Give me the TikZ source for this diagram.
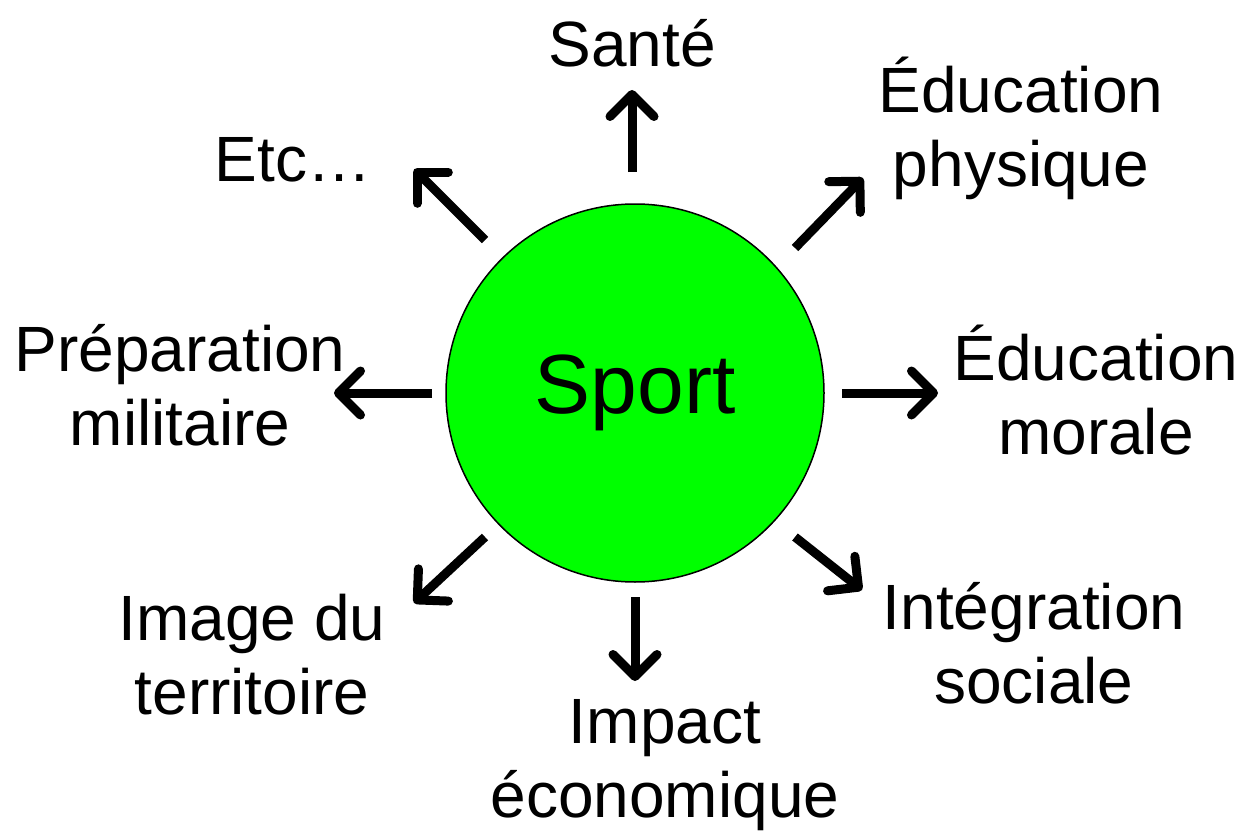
\documentclass[tikz,border=0pt]{standalone}
\usepackage{fontspec}
\setmainfont{Liberation Sans}
\usetikzlibrary{arrows.meta}

\begin{document}
\begin{tikzpicture}[x=1pt,y=-1pt]
\tikzset{
  label/.style={align=center,inner sep=0pt,font=\fontsize{64}{74}\selectfont},
  arr/.style={line width=9pt,-{Straight Barb[length=22pt,width=44pt,round]}}
}
\useasboundingbox (0,0) rectangle (1245,840);
% centre
\node (sport) [circle,draw,line width=1.5pt,fill={rgb,255:red,0;green,255;blue,0},minimum size=378pt,inner sep=0pt,font=\fontsize{84}{100}\selectfont] at (635,393) {Sport};
% labels
\node (sante) [label] at (632,43) {Santé};
\node (edphys) [label] at (1021,128) {Éducation\\physique};
\node (edmor) [label] at (1096,390) {Éducation\\morale};
\node (integ) [label] at (1034,643) {Intégration\\sociale};
\node (impact) [label] at (665,765) {Impact\\économique};
\node (image) [label] at (252,655) {Image du\\territoire};
\node (prep) [label] at (180,385) {Préparation\\militaire};
\node (etc) [label] at (293,160) {Etc…};
% arrow ends
\coordinate (a1) at (632,172); \coordinate (b1) at (632,90);
\coordinate (a2) at (795,248); \coordinate (b2) at (863,178);
\coordinate (a3) at (842,393); \coordinate (b3) at (938,393);
\coordinate (a4) at (795,537); \coordinate (b4) at (862,590);
\coordinate (a5) at (635,597); \coordinate (b5) at (635,681);
\coordinate (a6) at (485,537); \coordinate (b6) at (414,603);
\coordinate (a7) at (432,393); \coordinate (b7) at (334,393);
\coordinate (a8) at (485,240); \coordinate (b8) at (414,169);
\foreach \i in {1,...,8}
  \draw [arr] (a\i) -- (b\i);
\end{tikzpicture}
\end{document}
